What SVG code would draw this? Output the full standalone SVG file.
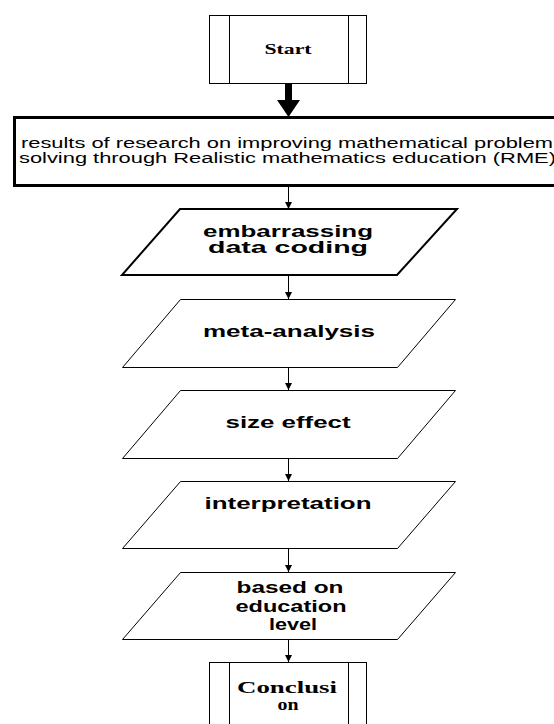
<svg xmlns="http://www.w3.org/2000/svg" width="554" height="724" viewBox="0 0 554 724">
<style>
.box{fill:#fff;stroke:#000;stroke-width:1}
.para{fill:#fff;stroke:#000;stroke-width:1}
.serif{font-family:"Liberation Serif","Times New Roman",serif;font-weight:bold;fill:#000}
.sans{font-family:"Liberation Sans",Arial,sans-serif;fill:#000}
.bold{font-weight:bold;font-size:16px}
.conn{stroke:#000;stroke-width:1;fill:none}
</style>
<defs>
<marker id="ah" viewBox="0 0 10 10" refX="10" refY="5" markerWidth="7" markerHeight="7" markerUnits="userSpaceOnUse" orient="auto">
<path d="M0,0 L10,5 L0,10 z" fill="#000"/>
</marker>
</defs>
<rect width="554" height="724" fill="#fff"/>
<g id="start">
<rect class="box" x="209.5" y="15.5" width="157" height="68"/>
<line class="conn" x1="229.5" y1="15.5" x2="229.5" y2="83.5"/>
<line class="conn" x1="348.5" y1="15.5" x2="348.5" y2="83.5"/>
<text class="serif" x="288" y="54" font-size="14" text-anchor="middle" textLength="47" lengthAdjust="spacingAndGlyphs">Start</text>
</g>
<g id="results">
<rect x="14.5" y="117.5" width="560" height="68" fill="#fff" stroke="#000" stroke-width="3"/>
<text class="sans" x="21" y="147.5" font-size="14" textLength="532" lengthAdjust="spacingAndGlyphs">results of research on improving mathematical problem</text>
<text class="sans" x="19" y="162.5" font-size="14" textLength="537" lengthAdjust="spacingAndGlyphs">solving through Realistic mathematics education (RME)</text>
</g>
<g id="coding">
<polygon points="180,209 457,209 397,275 122,275" fill="#fff" stroke="#000" stroke-width="2"/>
<text class="sans bold" x="288" y="237" text-anchor="middle" textLength="170" lengthAdjust="spacingAndGlyphs">embarrassing</text>
<text class="sans bold" x="288" y="253" text-anchor="middle" textLength="160" lengthAdjust="spacingAndGlyphs">data coding</text>
</g>
<g id="meta">
<polygon class="para" points="180.5,299.5 455.5,299.5 397.5,367.5 122.5,367.5"/>
<text class="sans bold" x="289" y="337" text-anchor="middle" textLength="172" lengthAdjust="spacingAndGlyphs">meta-analysis</text>
</g>
<g id="size">
<polygon class="para" points="180.5,390.5 455.5,390.5 397.5,458.5 122.5,458.5"/>
<text class="sans bold" x="288" y="428" text-anchor="middle" textLength="125" lengthAdjust="spacingAndGlyphs">size effect</text>
</g>
<g id="interp">
<polygon class="para" points="180.5,481.5 455.5,481.5 397.5,548.5 122.5,548.5"/>
<text class="sans bold" x="288" y="509" text-anchor="middle" textLength="167" lengthAdjust="spacingAndGlyphs">interpretation</text>
</g>
<g id="level">
<polygon class="para" points="180.5,572.5 455.5,572.5 397.5,639.5 122.5,639.5"/>
<text class="sans bold" x="290" y="592.5" text-anchor="middle" textLength="107" lengthAdjust="spacingAndGlyphs">based on</text>
<text class="sans bold" x="291" y="611.5" text-anchor="middle" textLength="111" lengthAdjust="spacingAndGlyphs">education</text>
<text class="sans bold" x="293" y="629.5" text-anchor="middle" textLength="48" lengthAdjust="spacingAndGlyphs">level</text>
</g>
<g id="conclusion">
<rect class="box" x="209.5" y="662.5" width="157" height="80"/>
<line class="conn" x1="229.5" y1="662.5" x2="229.5" y2="724"/>
<line class="conn" x1="348.5" y1="662.5" x2="348.5" y2="724"/>
<text class="serif" x="287" y="693" font-size="16" text-anchor="middle" textLength="100" lengthAdjust="spacingAndGlyphs">Conclusi</text>
<text class="serif" x="288" y="710" font-size="16" text-anchor="middle" textLength="21" lengthAdjust="spacingAndGlyphs">on</text>
</g>
<g id="connectors">
<path d="M285,83 H292 V100 H300 L288.5,117 L277,100 H285 Z" fill="#000"/>
<line class="conn" x1="288.5" y1="186" x2="288.5" y2="209" marker-end="url(#ah)"/>
<line class="conn" x1="288.5" y1="275" x2="288.5" y2="299" marker-end="url(#ah)"/>
<line class="conn" x1="288.5" y1="367" x2="288.5" y2="390" marker-end="url(#ah)"/>
<line class="conn" x1="288.5" y1="458" x2="288.5" y2="481" marker-end="url(#ah)"/>
<line class="conn" x1="288.5" y1="548" x2="288.5" y2="572" marker-end="url(#ah)"/>
<line class="conn" x1="288.5" y1="639" x2="288.5" y2="662" marker-end="url(#ah)"/>
</g>
</svg>
